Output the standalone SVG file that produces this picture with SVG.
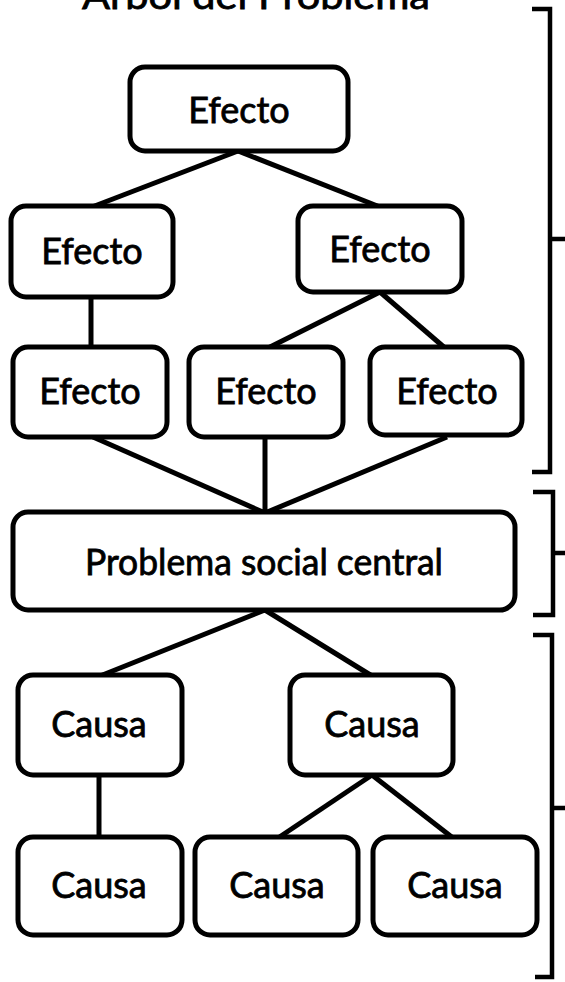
<svg xmlns="http://www.w3.org/2000/svg" width="565" height="982" viewBox="0 0 565 982">
<style>
.box{fill:#fff;stroke:#000;stroke-width:5}
.lbl{font-family:Lato,"Open Sans","Liberation Sans",sans-serif;font-size:36px;fill:#000;stroke:#000;stroke-width:0.8;text-anchor:middle}
.ttl{font-family:Lato,"Open Sans","Liberation Sans",sans-serif;font-size:37px;fill:#000;stroke:#000;stroke-width:0.8}
.ln{stroke:#000;stroke-width:5;fill:none;stroke-linecap:butt}
.br{stroke:#000;stroke-width:4.5;fill:none}
</style>
<rect width="565" height="982" fill="#fff"/>
<text class="ttl" x="82" y="9" textLength="348" lengthAdjust="spacingAndGlyphs">Arbol del Problema</text>
<g id="connectors">
<line class="ln" x1="238" y1="151" x2="92" y2="207"/>
<line class="ln" x1="238" y1="151" x2="380" y2="207"/>
<line class="ln" x1="91" y1="297" x2="91" y2="348"/>
<line class="ln" x1="380" y1="292" x2="268" y2="348"/>
<line class="ln" x1="380" y1="292" x2="445" y2="348"/>
<line class="ln" x1="93" y1="437" x2="265" y2="513"/>
<line class="ln" x1="265" y1="437" x2="265" y2="513"/>
<line class="ln" x1="447" y1="437" x2="265" y2="513"/>
<line class="ln" x1="265" y1="610" x2="100" y2="676"/>
<line class="ln" x1="265" y1="610" x2="372" y2="676"/>
<line class="ln" x1="99" y1="775" x2="99" y2="838"/>
<line class="ln" x1="372" y1="775" x2="278" y2="838"/>
<line class="ln" x1="372" y1="775" x2="453" y2="838"/>
</g>
<g id="brackets">
<path class="br" d="M532 9 H550 V472 H532 M550 239 H565"/>
<path class="br" d="M533 492 H553 V615 H533 M553 553 H565"/>
<path class="br" d="M533 635 H552 V977 H535 M552 808 H565"/>
</g>
<g id="e0"><rect class="box" x="130" y="67" width="218" height="84" rx="15"/><text class="lbl" x="239" y="123">Efecto</text></g>
<g id="e1"><rect class="box" x="11" y="206" width="162" height="91" rx="15"/><text class="lbl" x="92" y="264">Efecto</text></g>
<g id="e2"><rect class="box" x="298" y="206" width="164" height="86" rx="15"/><text class="lbl" x="380" y="262">Efecto</text></g>
<g id="e3"><rect class="box" x="13" y="347" width="154" height="90" rx="15"/><text class="lbl" x="90" y="404">Efecto</text></g>
<g id="e4"><rect class="box" x="189" y="347" width="154" height="90" rx="15"/><text class="lbl" x="266" y="404">Efecto</text></g>
<g id="e5"><rect class="box" x="370" y="347" width="152" height="88" rx="15"/><text class="lbl" x="447" y="404">Efecto</text></g>
<g id="p"><rect class="box" x="13" y="512" width="502" height="98" rx="15"/><text class="lbl" x="264" y="575" textLength="358" lengthAdjust="spacingAndGlyphs">Problema social central</text></g>
<g id="c1"><rect class="box" x="18" y="675" width="164" height="100" rx="15"/><text class="lbl" x="99" y="737">Causa</text></g>
<g id="c2"><rect class="box" x="290" y="675" width="163" height="100" rx="15"/><text class="lbl" x="372" y="737">Causa</text></g>
<g id="c3"><rect class="box" x="18" y="837" width="164" height="98" rx="15"/><text class="lbl" x="99" y="898">Causa</text></g>
<g id="c4"><rect class="box" x="195" y="837" width="163" height="98" rx="15"/><text class="lbl" x="277" y="898">Causa</text></g>
<g id="c5"><rect class="box" x="373" y="837" width="164" height="98" rx="15"/><text class="lbl" x="455" y="898">Causa</text></g>
</svg>
